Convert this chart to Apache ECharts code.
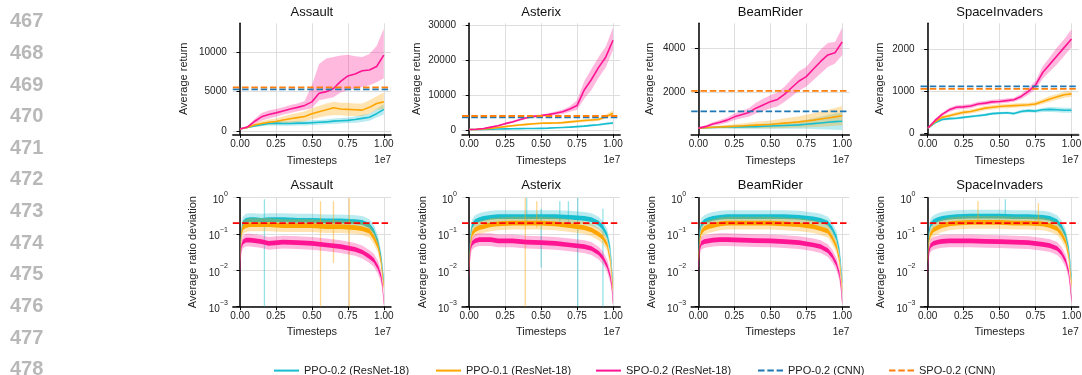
<!DOCTYPE html>
<html><head><meta charset="utf-8">
<script src="https://cdn.jsdelivr.net/npm/echarts@6/dist/echarts.min.js"></script>
<style>html,body{margin:0;padding:0;background:#fff}#c{width:1082px;height:375px}</style>
</head><body><div id="c"></div>
<script>
// ---------------- DATA ----------------
const games = ['Assault', 'Asterix', 'BeamRider', 'SpaceInvaders'];
const lineNumbers = ['467','468','469','470','471','472','473','474','475','476','477','478'];
const seriesNames = ['PPO-0.2 (ResNet-18)', 'PPO-0.1 (ResNet-18)', 'SPO-0.2 (ResNet-18)', 'PPO-0.2 (CNN)', 'SPO-0.2 (CNN)'];
const xTicks = [0, 0.25, 0.5, 0.75, 1.0];
const xOffsetLabel = '1e7';

// top row: timesteps (x1e7)
const topX = [0,0.05,0.1,0.15,0.2,0.25,0.3,0.35,0.4,0.45,0.5,0.55,0.6,0.65,0.7,0.75,0.8,0.85,0.9,0.95,1.0];

const assaultPPO2   = [250,450,650,800,950,1000,950,950,1000,1000,1050,1100,1150,1250,1300,1350,1450,1600,1750,2200,2750];
const assaultPPO2Lo = [200,350,500,600,700,700,650,650,700,700,750,800,850,900,950,1000,1050,1150,1300,1700,2100];
const assaultPPO2Hi = [300,550,800,1000,1200,1300,1250,1250,1300,1300,1350,1400,1450,1600,1650,1700,1850,2050,2200,2800,3400];
const assaultPPO1   = [250,450,750,950,1100,1200,1400,1550,1700,1850,2200,2450,2700,2950,2800,2750,2700,2650,3000,3500,3700];
const assaultPPO1Lo = [200,350,550,700,800,850,950,1050,1150,1250,1500,1700,1900,2000,2000,1900,1900,1900,2200,2700,2800];
const assaultPPO1Hi = [300,550,950,1250,1450,1600,1850,2100,2300,2500,2900,3200,3500,3700,3600,3600,3500,3500,3900,4400,4900];
const assaultSPO    = [250,500,1200,1800,2100,2300,2550,2800,3000,3250,3700,4800,5000,5400,6300,7000,7250,7650,7750,8200,9650];
const assaultSPOLo  = [200,400,900,1300,1600,1800,2100,2300,2500,2700,2900,3900,4100,4300,4900,5200,5400,5600,5800,6200,6700];
const assaultSPOHi  = [300,600,1500,2300,2600,2800,3000,3300,3500,3800,5800,8500,9200,9400,9600,9700,9500,9400,9800,10800,13000];

const asterixPPO2   = [100,120,150,200,250,300,350,380,400,420,450,500,600,700,800,950,1100,1300,1500,1750,2000];
const asterixPPO2Lo = [50,70,100,140,180,220,260,290,300,320,340,380,460,540,620,740,860,1020,1200,1400,1600];
const asterixPPO2Hi = [150,170,200,260,320,380,440,470,500,520,560,620,740,860,980,1160,1340,1580,1800,2100,2400];
const asterixPPO1   = [100,150,300,450,700,950,1200,1400,1600,1750,1900,1950,2000,2100,2300,2500,2700,2850,3000,3800,4800];
const asterixPPO1Lo = [50,100,200,300,500,700,900,1100,1300,1450,1600,1650,1700,1800,1950,2150,2300,2450,2600,3200,4100];
const asterixPPO1Hi = [150,200,400,600,900,1200,1500,1700,1900,2050,2200,2250,2300,2400,2650,2850,3100,3250,3400,4400,5600];
const asterixSPO    = [100,200,400,800,1200,1800,2300,2900,3500,3900,4100,4400,4800,5200,6000,7000,11500,14500,18000,21000,25800];
const asterixSPOLo  = [50,150,300,600,1000,1500,2000,2600,3200,3600,3800,4000,4300,4600,5200,5800,9000,11500,15000,18000,23000];
const asterixSPOHi  = [150,250,500,1000,1400,2100,2600,3200,3800,4200,4400,4800,5300,5800,6800,8500,14000,17500,21000,24000,29500];

const beamPPO2   = [330,345,360,370,380,385,390,395,400,415,430,440,450,465,480,510,540,570,600,630,650];
const beamPPO2Lo = [300,310,310,310,310,305,300,300,300,300,300,300,300,300,300,300,290,280,270,260,250];
const beamPPO2Hi = [360,380,410,430,450,465,480,490,500,530,560,580,600,630,660,720,790,860,930,1000,1050];
const beamPPO1   = [330,350,370,385,400,415,430,450,470,485,500,530,560,590,620,660,700,750,800,850,900];
const beamPPO1Lo = [300,310,320,320,320,320,320,320,320,320,320,330,340,350,360,370,380,400,420,440,460];
const beamPPO1Hi = [360,390,420,450,480,510,540,580,620,650,680,730,780,830,880,950,1020,1100,1180,1260,1350];
const beamSPO    = [330,400,520,600,700,850,950,1050,1250,1400,1550,1650,1900,2200,2500,2700,3050,3400,3700,3800,4300];
const beamSPOLo  = [300,340,440,500,580,700,780,850,1000,1120,1250,1330,1550,1800,2050,2250,2550,2850,3150,3300,3700];
const beamSPOHi  = [360,460,600,700,820,1000,1120,1250,1500,1680,1850,1970,2250,2600,2950,3150,3550,3950,4250,4300,4950];

const spacePPO2   = [120,250,330,350,360,380,400,420,440,470,480,490,470,520,540,530,560,570,560,550,550];
const spacePPO2Lo = [100,220,300,320,330,350,370,390,410,440,450,460,440,480,500,490,510,510,500,490,490];
const spacePPO2Hi = [140,280,360,380,390,410,430,450,470,500,510,520,500,560,580,570,610,630,620,610,610];
const spacePPO1   = [120,270,380,420,460,500,520,560,600,620,640,650,660,670,680,700,760,820,870,920,940];
const spacePPO1Lo = [100,240,340,380,410,450,470,510,550,570,590,600,610,620,630,650,700,750,800,850,870];
const spacePPO1Hi = [140,300,420,460,510,550,570,610,650,670,690,700,710,720,730,750,820,890,940,990,1010];
const spaceSPO    = [120,300,450,560,620,630,650,700,720,750,760,780,800,880,1000,1150,1450,1650,1850,2050,2250];
const spaceSPOLo  = [100,260,410,510,570,580,600,650,670,700,710,730,750,820,920,1050,1300,1480,1650,1850,2050];
const spaceSPOHi  = [140,340,490,610,670,680,700,750,770,800,810,830,850,940,1080,1250,1600,1820,2050,2250,2480];

// CNN baselines (dashed)
const cnnPPO = [5300, 3600, 1100, 1120];
const cnnSPO = [5550, 4000, 2050, 1060];

// top-row y tick labels
const assaultYTicks = [0, 5000, 10000];
const asterixYTicks = [0, 10000, 20000, 30000];
const beamYTicks = [2000, 4000];
const spaceYTicks = [0, 1000, 2000];

// bottom row: average ratio deviation (log)
const botX = [0,0.005,0.01,0.02,0.04,0.07,0.1,0.15,0.2,0.3,0.4,0.5,0.6,0.7,0.8,0.85,0.9,0.93,0.96,0.98,0.99,1.0];
const assaultDevPPO2 = [0.02,0.06,0.12,0.2,0.24,0.25,0.25,0.24,0.25,0.25,0.24,0.24,0.23,0.23,0.22,0.21,0.17,0.12,0.06,0.025,0.012,0.005];
const assaultDevPPO1 = [0.02,0.05,0.1,0.15,0.17,0.18,0.18,0.18,0.18,0.17,0.17,0.17,0.16,0.16,0.15,0.14,0.12,0.08,0.045,0.018,0.008,0.0035];
const assaultDevSPO  = [0.01,0.025,0.045,0.06,0.068,0.068,0.066,0.062,0.055,0.06,0.058,0.055,0.05,0.045,0.038,0.032,0.024,0.019,0.012,0.007,0.004,0.0012];
const asterixDevPPO2 = [0.02,0.05,0.1,0.17,0.22,0.25,0.27,0.29,0.3,0.3,0.3,0.3,0.3,0.29,0.27,0.25,0.2,0.15,0.09,0.04,0.015,0.004];
const asterixDevPPO1 = [0.012,0.03,0.06,0.1,0.13,0.15,0.16,0.18,0.19,0.2,0.2,0.2,0.19,0.17,0.15,0.13,0.1,0.08,0.05,0.02,0.008,0.003];
const asterixDevSPO  = [0.007,0.02,0.04,0.055,0.065,0.07,0.07,0.07,0.065,0.065,0.06,0.058,0.055,0.05,0.045,0.04,0.03,0.022,0.013,0.007,0.004,0.0013];
const beamDevPPO2 = [0.03,0.07,0.12,0.18,0.22,0.25,0.27,0.29,0.3,0.3,0.3,0.3,0.3,0.29,0.26,0.24,0.2,0.14,0.08,0.035,0.015,0.005];
const beamDevPPO1 = [0.02,0.04,0.07,0.11,0.14,0.16,0.17,0.19,0.2,0.2,0.2,0.2,0.19,0.18,0.16,0.14,0.12,0.08,0.045,0.02,0.008,0.003];
const beamDevSPO  = [0.011,0.025,0.04,0.055,0.062,0.065,0.068,0.07,0.07,0.068,0.066,0.065,0.062,0.058,0.05,0.045,0.035,0.025,0.015,0.008,0.004,0.0013];
const spaceDevPPO2 = [0.03,0.07,0.12,0.18,0.22,0.25,0.27,0.29,0.3,0.31,0.31,0.31,0.3,0.3,0.29,0.27,0.22,0.16,0.09,0.04,0.018,0.006];
const spaceDevPPO1 = [0.02,0.04,0.07,0.1,0.13,0.15,0.17,0.19,0.2,0.21,0.21,0.21,0.2,0.2,0.19,0.17,0.14,0.1,0.06,0.025,0.01,0.004];
const spaceDevSPO  = [0.009,0.02,0.035,0.048,0.055,0.06,0.063,0.065,0.065,0.065,0.063,0.062,0.06,0.058,0.052,0.048,0.04,0.03,0.018,0.009,0.004,0.0015];

// isolated spikes [x, low, high]
const assaultSpikesPPO2 = [[0.17,0.001,0.9]];
const assaultSpikesPPO1 = [[0.56,0.001,0.8],[0.65,0.016,0.8],[0.76,0.001,1.0]];
const asterixSpikesPPO2 = [[0.4,0.2,1.0],[0.5,0.012,0.5],[0.63,0.2,0.8],[0.69,0.2,0.8],[0.755,0.001,1.0],[0.93,0.001,0.5]];
const asterixSpikesPPO1 = [[0.39,0.001,1.0],[0.47,0.15,0.8]];
const beamSpikesPPO2 = [];
const beamSpikesPPO1 = [];
const spaceSpikesPPO2 = [[0.54,0.3,0.9]];
const spaceSpikesPPO1 = [[0.35,0.2,0.8],[0.77,0.2,0.7]];

const ratioThreshold = 0.2;

// ---------------- LAYOUT / STYLE ----------------
const FONT = '"Liberation Sans", Arial, sans-serif';
const C = { ppo2: '#17becf', ppo1: '#ffa500', spo: '#ff1493', cnnPPO: '#1f77b4', cnnSPO: '#ff7f0e', red: '#ff0000' };
const LEFTS = [232.8, 462, 691.2, 920.5], W = 158.2;
const TOP_T = 23.3, TOP_H = 111, BOT_T = 197.7, BOT_H = 109;
const X_MIN = -0.05, X_MAX = 1.05;
const topYRange = [[-424, 13690], [-1266, 30680], [47, 5156], [-24, 2624]];
const topYNameGap = [43, 40, 36, 35];

const topData = [
  { ticks: assaultYTicks, s: [[assaultPPO2, assaultPPO2Lo, assaultPPO2Hi], [assaultPPO1, assaultPPO1Lo, assaultPPO1Hi], [assaultSPO, assaultSPOLo, assaultSPOHi]] },
  { ticks: asterixYTicks, s: [[asterixPPO2, asterixPPO2Lo, asterixPPO2Hi], [asterixPPO1, asterixPPO1Lo, asterixPPO1Hi], [asterixSPO, asterixSPOLo, asterixSPOHi]] },
  { ticks: beamYTicks, s: [[beamPPO2, beamPPO2Lo, beamPPO2Hi], [beamPPO1, beamPPO1Lo, beamPPO1Hi], [beamSPO, beamSPOLo, beamSPOHi]] },
  { ticks: spaceYTicks, s: [[spacePPO2, spacePPO2Lo, spacePPO2Hi], [spacePPO1, spacePPO1Lo, spacePPO1Hi], [spaceSPO, spaceSPOLo, spaceSPOHi]] }
];
const botData = [
  { s: [assaultDevPPO2, assaultDevPPO1, assaultDevSPO], spikes: [assaultSpikesPPO2, assaultSpikesPPO1] },
  { s: [asterixDevPPO2, asterixDevPPO1, asterixDevSPO], spikes: [asterixSpikesPPO2, asterixSpikesPPO1] },
  { s: [beamDevPPO2, beamDevPPO1, beamDevSPO], spikes: [beamSpikesPPO2, beamSpikesPPO1] },
  { s: [spaceDevPPO2, spaceDevPPO1, spaceDevSPO], spikes: [spaceSpikesPPO2, spaceSpikesPPO1] }
];
const resColors = [C.ppo2, C.ppo1, C.spo];

const grids = [], xAxes = [], yAxes = [], series = [], graphics = [];
const tickColor = '#222';

function xAxisFor(g, gap) {
  return {
    type: 'value', gridIndex: g, min: X_MIN, max: X_MAX,
    axisLine: { show: true, onZero: false, lineStyle: { color: '#000', width: 1.5 } },
    axisTick: { show: true, length: 3.5, lineStyle: { color: '#000', width: 1 }, customValues: xTicks },
    axisLabel: { customValues: xTicks, formatter: v => v.toFixed(2), fontSize: 10, color: tickColor, margin: 5, fontFamily: FONT },
    splitLine: { show: true, lineStyle: { color: '#dedede', width: 1 } },
    name: 'Timesteps', nameLocation: 'middle', nameGap: gap,
    nameTextStyle: { fontSize: 11, color: tickColor, fontFamily: FONT }
  };
}

function bandSeries(g, xs, lo, hi, color, alpha, floor) {
  return {
    type: 'custom', xAxisIndex: g, yAxisIndex: g, silent: true, clip: true, z: 2,
    data: [[xs[0], hi[0]]],
    renderItem: (p, api) => {
      const pts = [];
      for (let i = 0; i < xs.length; i++) pts.push(api.coord([xs[i], Math.max(hi[i], floor)]));
      for (let i = xs.length - 1; i >= 0; i--) pts.push(api.coord([xs[i], Math.max(lo[i], floor)]));
      return { type: 'polygon', shape: { points: pts }, style: { fill: color, opacity: alpha } };
    }
  };
}

function lineSeries(g, name, xs, ys, color, width, dash) {
  return {
    type: 'line', name: name, xAxisIndex: g, yAxisIndex: g, symbol: 'none', silent: true, z: 3,
    data: xs.map((x, i) => [x, ys[i]]),
    lineStyle: { color: color, width: width, type: dash || 'solid', join: 'round' },
    itemStyle: { color: color }
  };
}

function spikeSeries(g, spikes, color) {
  return {
    type: 'custom', xAxisIndex: g, yAxisIndex: g, silent: true, clip: true, z: 2,
    data: spikes, encode: { x: 0, y: [1, 2] },
    renderItem: (p, api) => {
      const a = api.coord([api.value(0), api.value(1)]);
      const b = api.coord([api.value(0), api.value(2)]);
      return { type: 'line', shape: { x1: a[0], y1: a[1], x2: b[0], y2: b[1] }, style: { stroke: color, lineWidth: 1.3, opacity: 0.45 } };
    }
  };
}

const SUP = { '0': '0', '-1': '−1', '-2': '−2', '-3': '−3' };

games.forEach((game, c) => {
  // ---- top row ----
  const gt = grids.length;
  grids.push({ left: LEFTS[c], top: TOP_T, width: W, height: TOP_H, containLabel: false, outerBoundsMode: 'none' });
  xAxes.push(xAxisFor(gt, 21));
  const td = topData[c];
  yAxes.push({
    type: 'value', gridIndex: gt, min: topYRange[c][0], max: topYRange[c][1],
    axisLine: { show: true, lineStyle: { color: '#000', width: 1.5 } },
    axisTick: { show: true, length: 3.5, lineStyle: { color: '#000', width: 1 }, customValues: td.ticks },
    axisLabel: { customValues: td.ticks, formatter: v => String(v), fontSize: 10, color: tickColor, margin: 6, fontFamily: FONT },
    splitLine: { show: true, lineStyle: { color: '#dedede', width: 1 } },
    name: 'Average return', nameLocation: 'middle', nameGap: topYNameGap[c],
    nameTextStyle: { fontSize: 11, color: tickColor, fontFamily: FONT }
  });
  td.s.forEach((trip, k) => {
    series.push(bandSeries(gt, topX, trip[1], trip[2], resColors[k], 0.3, -1e9));
    series.push(lineSeries(gt, seriesNames[k], topX, trip[0], resColors[k], 1.6));
  });
  series.push(lineSeries(gt, seriesNames[3], [X_MIN, X_MAX], [cnnPPO[c], cnnPPO[c]], C.cnnPPO, 1.8, [6.5, 2.8]));
  series.push(lineSeries(gt, seriesNames[4], [X_MIN, X_MAX], [cnnSPO[c], cnnSPO[c]], C.cnnSPO, 1.8, [6.5, 2.8]));

  // ---- bottom row ----
  const gb = grids.length;
  grids.push({ left: LEFTS[c], top: BOT_T, width: W, height: BOT_H, containLabel: false, outerBoundsMode: 'none' });
  xAxes.push(xAxisFor(gb, 20));
  yAxes.push({
    type: 'log', logBase: 10, gridIndex: gb, min: 0.001, max: 1,
    axisLine: { show: true, lineStyle: { color: '#000', width: 1.5 } },
    axisTick: { show: true, length: 3.5, lineStyle: { color: '#000', width: 1 } },
    axisLabel: {
      fontSize: 10, color: tickColor, margin: 5, fontFamily: FONT,
      formatter: v => '{b|10}{s|' + SUP[String(Math.round(Math.log10(v)))] + '}',
      rich: {
        b: { fontSize: 10, color: tickColor, fontFamily: FONT, lineHeight: 15, verticalAlign: 'bottom' },
        s: { fontSize: 7, color: tickColor, fontFamily: FONT, lineHeight: 8, verticalAlign: 'top' }
      }
    },
    splitLine: { show: true, lineStyle: { color: '#dedede', width: 1 } },
    name: 'Average ratio deviation', nameLocation: 'middle', nameGap: 34,
    nameTextStyle: { fontSize: 11, color: tickColor, fontFamily: FONT }
  });
  const bd = botData[c];
  bd.s.forEach((vals, k) => {
    series.push(bandSeries(gb, botX, vals.map(v => v / 1.5), vals.map(v => v * 1.5), resColors[k], 0.3, 0.001));
    if (k < 2) series.push(spikeSeries(gb, bd.spikes[k], resColors[k]));
    series.push(bandSeries(gb, botX, vals.map(v => v / 1.16), vals.map(v => v * 1.16), resColors[k], 1, 0.001));
  });
  series.push(lineSeries(gb, 'threshold', [X_MIN, X_MAX], [ratioThreshold, ratioThreshold], C.red, 1.8, [6.5, 2.8]));

  // titles and offset labels
  const cx = LEFTS[c] + W / 2;
  graphics.push({ type: 'text', x: cx, y: 12.7, style: { text: game, fill: '#111', font: '13px ' + FONT, align: 'center', verticalAlign: 'middle' } });
  graphics.push({ type: 'text', x: cx, y: 185.7, style: { text: game, fill: '#111', font: '13px ' + FONT, align: 'center', verticalAlign: 'middle' } });
  graphics.push({ type: 'text', x: LEFTS[c] + W, y: TOP_T + TOP_H + 26, style: { text: xOffsetLabel, fill: tickColor, font: '10px ' + FONT, align: 'right', verticalAlign: 'middle' } });
  graphics.push({ type: 'text', x: LEFTS[c] + W, y: BOT_T + BOT_H + 26, style: { text: xOffsetLabel, fill: tickColor, font: '10px ' + FONT, align: 'right', verticalAlign: 'middle' } });
});

lineNumbers.forEach((t, i) => {
  graphics.push({ type: 'text', x: 10, y: 21.7 + 31.65 * i, style: { text: t, fill: '#b8b8b8', font: 'bold 20px ' + FONT, align: 'left', verticalAlign: 'middle' } });
});

const legendLefts = [268, 430, 590, 752, 883];
const legends = seriesNames.map((n, i) => ({
  data: [n], left: legendLefts[i], top: 360, itemWidth: 25, itemHeight: 14, itemGap: 0,
  selectedMode: false,
  itemStyle: { opacity: 0 },
  textStyle: { fontSize: 11, color: tickColor, fontFamily: FONT }
}));

const chart = echarts.init(document.getElementById('c'), null, { renderer: 'canvas' });
chart.setOption({
  animation: false,
  backgroundColor: '#fff',
  grid: grids, xAxis: xAxes, yAxis: yAxes, series: series,
  legend: legends,
  graphic: graphics,
  tooltip: { show: false }
});
</script>
</body></html>
